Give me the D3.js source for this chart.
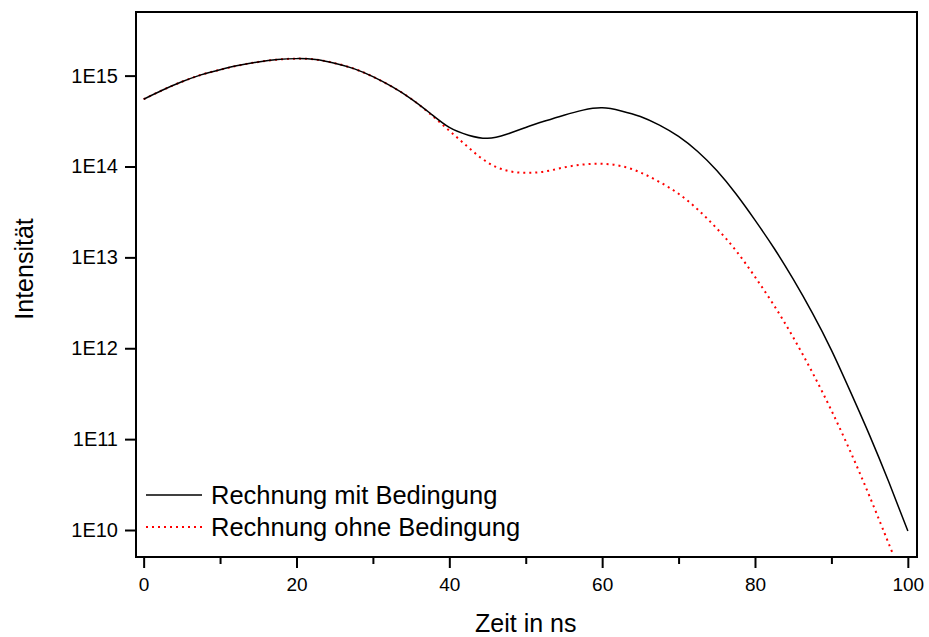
<!DOCTYPE html>
<html>
<head>
<meta charset="utf-8">
<script src="https://cdn.jsdelivr.net/npm/d3@7"></script>
<style>
  html, body { margin: 0; padding: 0; background: #fff; }
  svg { display: block; font-family: "Liberation Sans", Arial, sans-serif; }
</style>
</head>
<body>
<svg id="chart" width="929" height="637"></svg>
<script>
// ---- data (time in ns, intensity) ----
const timeMit = [0, 2.5, 5, 7.5, 10, 12.5, 15, 17.5, 20, 22.5, 25, 27.5, 30, 32.5, 35, 37.5, 40, 42.5, 45, 47.5, 50, 52.5, 55, 57.5, 60, 62.5, 65, 67.5, 70, 72.5, 75, 77.5, 80, 82.5, 85, 87.5, 90, 92.5, 95, 97.5, 100];
const valuesMit = [5.50e14, 6.95e14, 8.55e14, 1.019e15, 1.161e15, 1.297e15, 1.413e15, 1.500e15, 1.538e15, 1.503e15, 1.371e15, 1.194e15, 9.73e14, 7.55e14, 5.56e14, 3.85e14, 2.69e14, 2.21e14, 2.04e14, 2.26e14, 2.69e14, 3.16e14, 3.67e14, 4.17e14, 4.42e14, 4.09e14, 3.55e14, 2.85e14, 2.14e14, 1.46e14, 9.02e13, 5.01e13, 2.57e13, 1.26e13, 5.75e12, 2.45e12, 9.55e11, 3.31e11, 1.10e11, 3.39e10, 9.77e9];

const timeOhne = [0, 2.5, 5, 7.5, 10, 12.5, 15, 17.5, 20, 22.5, 25, 27.5, 30, 32.5, 35, 37.5, 40, 42.5, 45, 47.5, 50, 52.5, 55, 57.5, 60, 62.5, 65, 67.5, 70, 72.5, 75, 77.5, 80, 82.5, 85, 87.5, 90, 92.5, 95, 97.5, 98];
const valuesOhne = [5.50e14, 6.95e14, 8.55e14, 1.019e15, 1.161e15, 1.297e15, 1.413e15, 1.500e15, 1.538e15, 1.503e15, 1.371e15, 1.194e15, 9.73e14, 7.55e14, 5.56e14, 3.78e14, 2.48e14, 1.62e14, 1.11e14, 9.02e13, 8.51e13, 8.81e13, 9.77e13, 1.05e14, 1.07e14, 1.01e14, 8.61e13, 6.76e13, 5.01e13, 3.37e13, 2.08e13, 1.19e13, 6.10e12, 2.95e12, 1.32e12, 5.43e11, 2.07e11, 7.24e10, 2.34e10, 7.08e9, 5.56e9];

const xTicks = [0, 20, 40, 60, 80, 100];
const xMinorTicks = [10, 30, 50, 70, 90];
const yTicks = [1e10, 1e11, 1e12, 1e13, 1e14, 1e15];
const yTickLabels = ["1E10", "1E11", "1E12", "1E13", "1E14", "1E15"];
const seriesNames = ["Rechnung mit Bedingung", "Rechnung ohne Bedingung"];
const xTitle = "Zeit in ns";
const yTitle = "Intensität";

// ---- layout ----
const pLeft = 136, pRight = 917, pTop = 12, pBottom = 557;
const svg = d3.select("#chart");

const x = d3.scaleLinear().domain([-1.0, 101.2]).range([pLeft, pRight]);
const y = d3.scaleLog().domain([Math.pow(10, 9.703), Math.pow(10, 15.70)]).range([pBottom, pTop]);

svg.append("defs").append("clipPath").attr("id", "clip")
  .append("rect").attr("x", pLeft).attr("y", pTop).attr("width", pRight - pLeft).attr("height", pBottom - pTop);

const line = d3.line()
  .x(d => x(d[0]))
  .y(d => y(d[1]))
  .curve(d3.curveNatural);

const g = svg.append("g").attr("clip-path", "url(#clip)");

g.append("path")
  .datum(timeOhne.map((t, i) => [t, valuesOhne[i]]))
  .attr("d", line)
  .attr("fill", "none")
  .attr("stroke", "#ff0000")
  .attr("stroke-width", 2)
  .attr("stroke-dasharray", "2,4");

g.append("path")
  .datum(timeMit.map((t, i) => [t, valuesMit[i]]))
  .attr("d", line)
  .attr("fill", "none")
  .attr("stroke", "#000")
  .attr("stroke-width", 1.5);

// ---- frame ----
svg.append("rect")
  .attr("x", pLeft).attr("y", pTop)
  .attr("width", pRight - pLeft).attr("height", pBottom - pTop)
  .attr("fill", "none").attr("stroke", "#000").attr("stroke-width", 2);

// ---- x axis ----
const xAxis = d3.axisBottom(x).tickValues(xTicks).tickSize(11).tickFormat(d3.format("d"));
const xg = svg.append("g").attr("transform", `translate(0,${pBottom})`).call(xAxis);
xg.select(".domain").remove();
xg.selectAll(".tick line").attr("stroke", "#000").attr("stroke-width", 2);
xg.selectAll(".tick text").attr("font-size", 19).attr("font-family", "Liberation Sans, Arial, sans-serif").attr("fill", "#000").attr("dy", "0.71em").attr("y", 21);

const xMinor = d3.axisBottom(x).tickValues(xMinorTicks).tickSize(7).tickFormat("");
const xmg = svg.append("g").attr("transform", `translate(0,${pBottom})`).call(xMinor);
xmg.select(".domain").remove();
xmg.selectAll(".tick line").attr("stroke", "#000").attr("stroke-width", 2);

// ---- y axis ----
const yAxis = d3.axisLeft(y).tickValues(yTicks).tickSize(11).tickFormat((d, i) => yTickLabels[i]);
const yg = svg.append("g").attr("transform", `translate(${pLeft},0)`).call(yAxis);
yg.select(".domain").remove();
yg.selectAll(".tick line").attr("stroke", "#000").attr("stroke-width", 2);
yg.selectAll(".tick text").attr("font-size", 20).attr("font-family", "Liberation Sans, Arial, sans-serif").attr("fill", "#000").attr("x", -18);

// ---- titles ----
svg.append("text")
  .attr("x", (x(0) + x(100)) / 2).attr("y", 632)
  .attr("text-anchor", "middle").attr("font-size", 25).attr("fill", "#000")
  .text(xTitle);

svg.append("text")
  .attr("transform", "translate(33,269) rotate(-90)")
  .attr("text-anchor", "middle").attr("font-size", 25).attr("fill", "#000")
  .text(yTitle);

// ---- legend ----
const legendRows = [
  { name: seriesNames[0], color: "#000", width: 1.5, dash: null, yy: 495 },
  { name: seriesNames[1], color: "#ff0000", width: 2, dash: "2,4", yy: 527 }
];
legendRows.forEach(r => {
  svg.append("line")
    .attr("x1", 146).attr("x2", 202).attr("y1", r.yy).attr("y2", r.yy)
    .attr("stroke", r.color).attr("stroke-width", r.width)
    .attr("stroke-dasharray", r.dash);
  svg.append("text")
    .attr("x", 211).attr("y", r.yy + 9)
    .attr("font-size", 25.5).attr("fill", "#000")
    .text(r.name);
});
</script>
</body>
</html>
